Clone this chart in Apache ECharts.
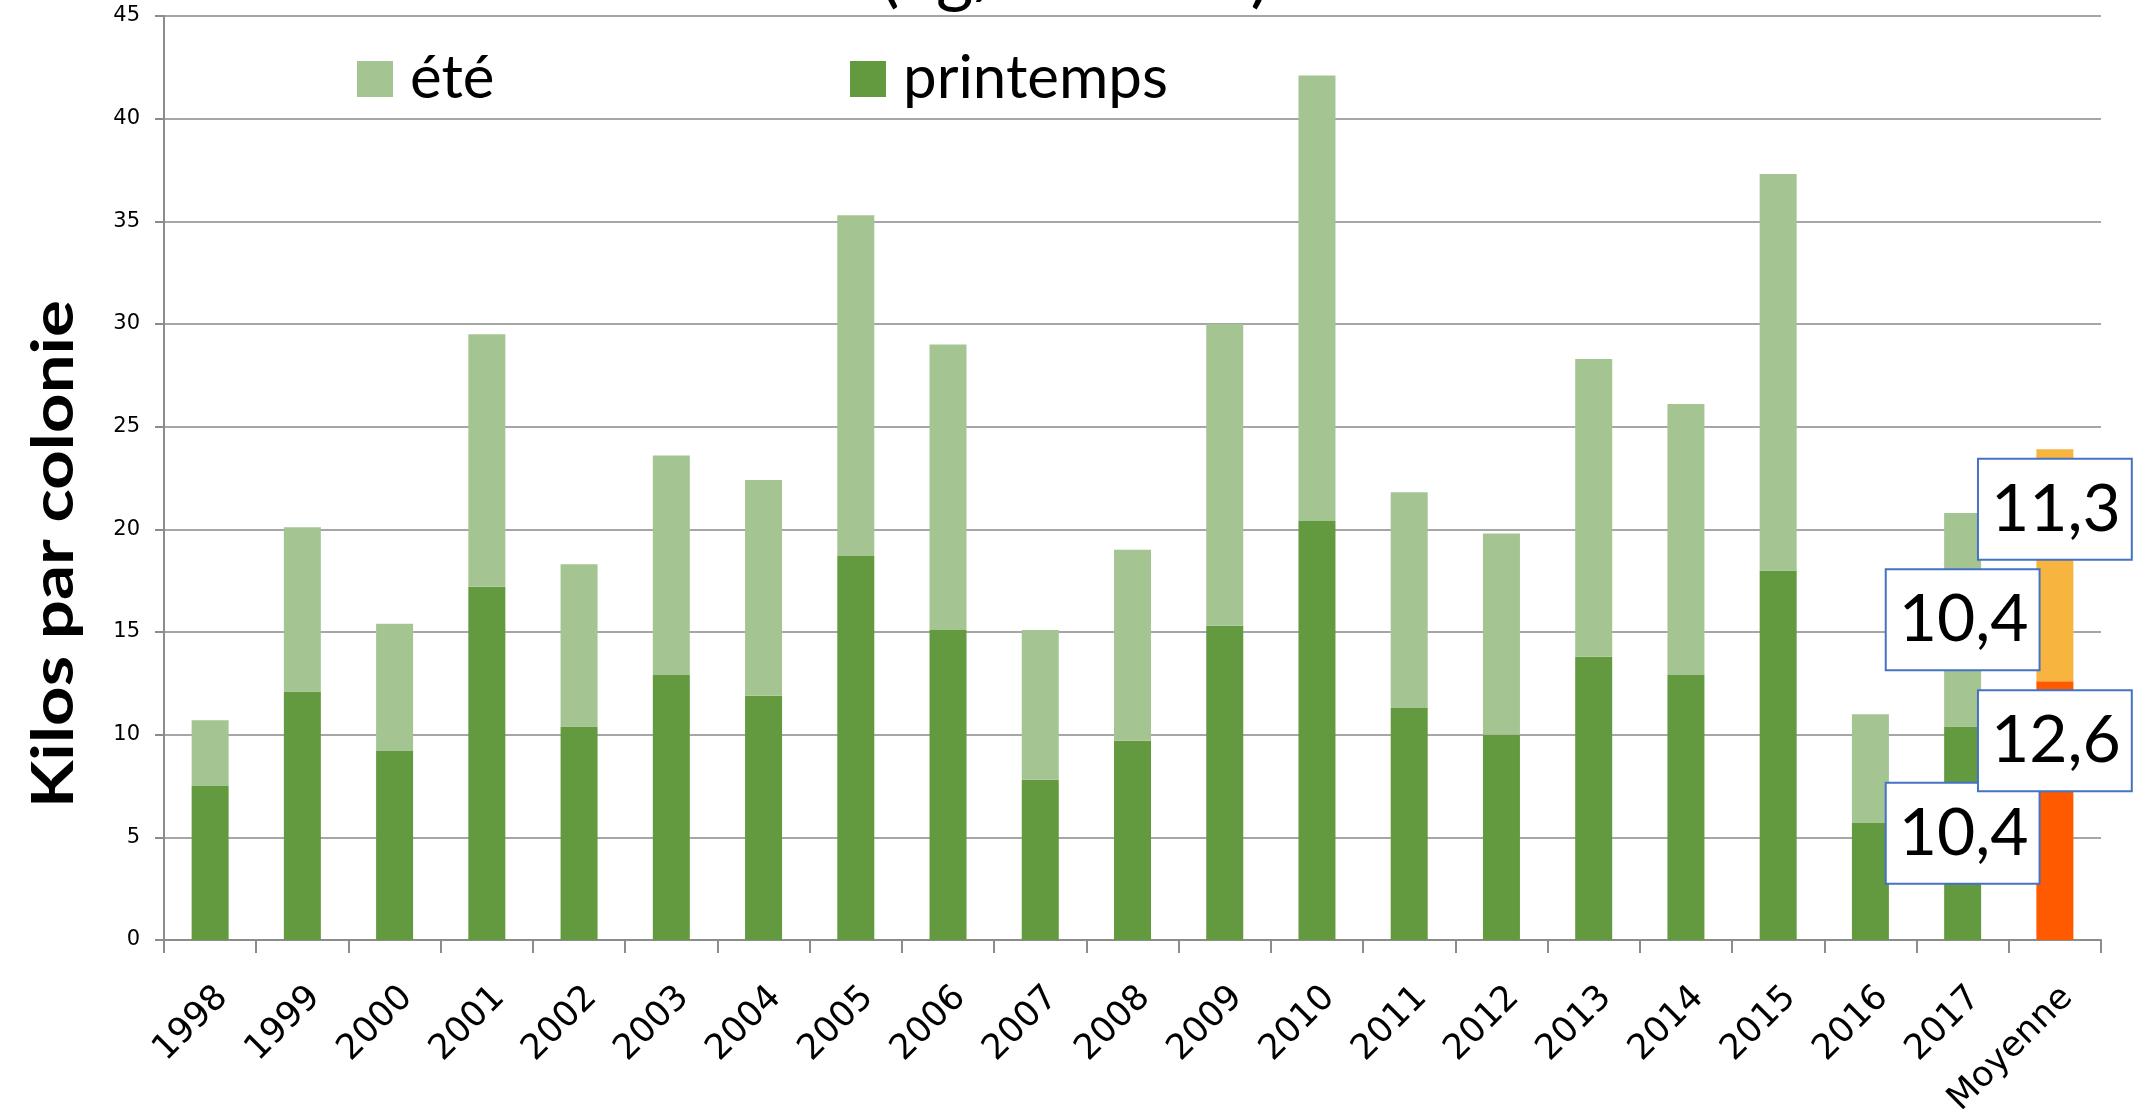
<!DOCTYPE html>
<html>
<head>
<meta charset="utf-8">
<script src="https://cdn.jsdelivr.net/npm/echarts@6/dist/echarts.min.js"></script>
<style>
html,body{margin:0;padding:0;background:#fff;}
#chart{width:2143px;height:1109px;}
</style>
</head>
<body>
<div id="chart"></div>
<script>
const categories = ['1998','1999','2000','2001','2002','2003','2004','2005','2006','2007','2008','2009','2010','2011','2012','2013','2014','2015','2016','2017','Moyenne'];
const printemps = [7.5,12.1,9.2,17.2,10.4,12.9,11.9,18.7,15.1,7.8,9.7,15.3,20.4,11.3,10.0,13.8,12.9,18.0,5.7,10.4,12.6];
const ete = [3.2,8.0,6.2,12.3,7.9,10.7,10.5,16.6,13.9,7.3,9.3,14.7,21.7,10.5,9.8,14.5,13.2,19.3,5.3,10.4,11.3];
const yTicks = {min:0, max:45, interval:5};
const labelledIndex = [19, 20];

const C_PRINT = '#639A3F', C_ETE = '#A4C592', C_MOY_P = '#FF5A00', C_MOY_E = '#F7B540';

const boxLabel = {
  show: true, position: 'inside', color: '#000', fontFamily: 'Lato', fontSize: 66, lineHeight: 77,
  backgroundColor: '#fff', borderColor: '#4472C4', borderWidth: 2, padding: [11, 10, 11, 12],
  formatter: p => p.value.toFixed(1).replace('.', ',')
};

function build(vals, color, moyColor, moyOffset) {
  return vals.map((v, i) => {
    const item = {value: v};
    if (i === 20) item.itemStyle = {color: moyColor};
    if (labelledIndex.includes(i)) {
      item.label = Object.assign({}, boxLabel, i === 20 ? {offset: [0, moyOffset]} : {});
    }
    return item;
  });
}

const chart = echarts.init(document.getElementById('chart'), null, {renderer: 'canvas'});
chart.setOption({
  animation: false,
  backgroundColor: '#fff',
  grid: {left: 164, right: 42, top: 16, bottom: 169, containLabel: false, outerBoundsMode: 'none'},
  legend: [
    {data: ['été'], left: 357, top: 49, padding: 0, itemWidth: 36, itemHeight: 36, icon: 'rect',
     textStyle: {fontFamily: 'Lato', fontSize: 60, lineHeight: 60, color: '#000', padding: [0, 0, 0, 12]}},
    {data: ['printemps'], left: 850, top: 49, padding: 0, itemWidth: 36, itemHeight: 36, icon: 'rect',
     textStyle: {fontFamily: 'Lato', fontSize: 60, lineHeight: 60, color: '#000', padding: [0, 0, 0, 12]}}
  ],
  xAxis: {
    type: 'category', data: categories,
    axisLine: {lineStyle: {color: '#8C8C8C', width: 2}},
    axisTick: {show: true, interval: 0, length: 13, lineStyle: {color: '#8C8C8C', width: 2}},
    axisLabel: {interval: 0, rotate: 45, verticalAlign: 'top', margin: 40, fontFamily: 'DejaVu Sans', fontSize: 35, color: '#000'}
  },
  yAxis: {
    type: 'value', min: yTicks.min, max: yTicks.max, interval: yTicks.interval,
    axisLine: {show: true, lineStyle: {color: '#8C8C8C', width: 2}},
    axisTick: {show: true, length: 9, lineStyle: {color: '#8C8C8C', width: 2}},
    axisLabel: {margin: 24, fontFamily: 'DejaVu Sans', fontSize: 21, color: '#000'},
    splitLine: {lineStyle: {color: '#A6A6A6', width: 2}}
  },
  series: [
    {name: 'printemps', type: 'bar', stack: 'tot', barWidth: 37, itemStyle: {color: C_PRINT},
     data: build(printemps, C_PRINT, C_MOY_P, -70)},
    {name: 'été', type: 'bar', stack: 'tot', barWidth: 37, itemStyle: {color: C_ETE},
     data: build(ete, C_ETE, C_MOY_E, -56)}
  ],
  graphic: [
    {type: 'text', x: 1075, y: -24, style: {text: '(kg/ colonie)', fontFamily: 'Lato', fontSize: 72, fill: '#000', textAlign: 'center', textVerticalAlign: 'middle'}},
    {type: 'text', x: 54, y: 554, rotation: Math.PI / 2, scaleX: 1.19, scaleY: 1,
     style: {text: 'Kilos par colonie', fontFamily: 'Lato', fontWeight: 'bold', fontSize: 58, fill: '#000', textAlign: 'center', textVerticalAlign: 'middle'}}
  ]
});
</script>
</body>
</html>
